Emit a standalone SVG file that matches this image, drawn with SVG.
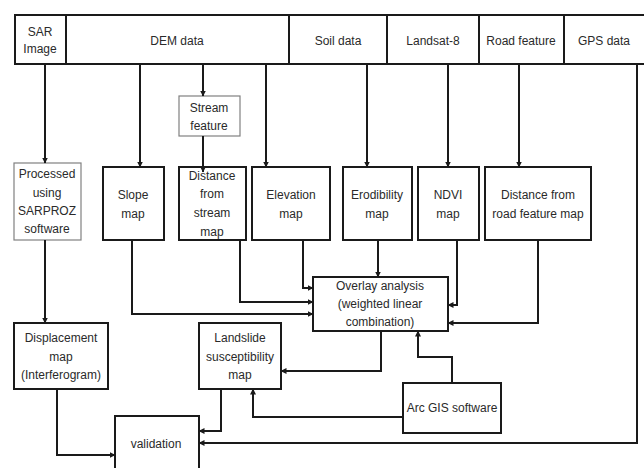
<svg xmlns="http://www.w3.org/2000/svg" width="644" height="468" viewBox="0 0 644 468">
<style>
.b{fill:#fff;stroke:#1a1a1a;stroke-width:2}
.t{fill:#fff;stroke:#808080;stroke-width:1.2}
text{font-family:"Liberation Sans",Arial,sans-serif;font-size:12px;fill:#2a2a2a;text-anchor:middle}
.c path{fill:none;stroke:#1a1a1a;stroke-width:2;marker-end:url(#a)}
</style>
<defs>
<marker id="a" markerUnits="userSpaceOnUse" markerWidth="6" markerHeight="6" refX="5.5" refY="3" orient="auto">
<path d="M0,0 L6,3 L0,6 z" fill="#1a1a1a"/>
</marker>
</defs>
<rect width="644" height="468" fill="#fff"/>
<g id="sar"><rect class="b" x="15" y="15" width="51" height="49"/><text x="40" y="36">SAR</text><text x="40" y="53">Image</text></g>
<g id="dem"><rect class="b" x="66" y="15" width="223" height="49"/><text x="177" y="45">DEM data</text></g>
<g id="soil"><rect class="b" x="289" y="15" width="98" height="49"/><text x="338" y="45">Soil data</text></g>
<g id="landsat"><rect class="b" x="387" y="15" width="92" height="49"/><text x="433" y="45">Landsat-8</text></g>
<g id="road"><rect class="b" x="479" y="15" width="85" height="49"/><text x="521" y="45">Road feature</text></g>
<g id="gps"><rect class="b" x="564" y="15" width="90" height="49"/><text x="604" y="45">GPS data</text></g>
<g id="stream"><rect class="t" x="179" y="96" width="61" height="40"/><text x="209" y="112">Stream</text><text x="209" y="130">feature</text></g>
<g id="processed"><rect class="t" x="14" y="163" width="67" height="77"/><text x="47" y="178">Processed</text><text x="47" y="197">using</text><text x="47" y="215">SARPROZ</text><text x="47" y="233">software</text></g>
<g id="slope"><rect class="b" x="103" y="167" width="61" height="73"/><text x="133" y="199">Slope</text><text x="133" y="218">map</text></g>
<g id="diststream"><rect class="b" x="179" y="167" width="67" height="73"/><text x="212" y="180">Distance</text><text x="212" y="198">from</text><text x="212" y="217">stream</text><text x="212" y="236">map</text></g>
<g id="elevation"><rect class="b" x="252" y="167" width="78" height="73"/><text x="291" y="199">Elevation</text><text x="291" y="218">map</text></g>
<g id="erodibility"><rect class="b" x="343" y="167" width="69" height="73"/><text x="377" y="199">Erodibility</text><text x="377" y="218">map</text></g>
<g id="ndvi"><rect class="b" x="418" y="167" width="61" height="73"/><text x="448" y="199">NDVI</text><text x="448" y="218">map</text></g>
<g id="distroad"><rect class="b" x="485" y="167" width="106" height="73"/><text x="538" y="199">Distance from</text><text x="538" y="218">road feature map</text></g>
<g id="overlay"><rect class="b" x="313" y="277" width="135" height="54"/><text x="380" y="290">Overlay analysis</text><text x="380" y="308">(weighted linear</text><text x="380" y="326">combination)</text></g>
<g id="displacement"><rect class="b" x="14" y="323" width="94" height="66"/><text x="61" y="342">Displacement</text><text x="61" y="361">map</text><text x="61" y="379">(Interferogram)</text></g>
<g id="landslide"><rect class="b" x="199" y="323" width="82" height="66"/><text x="240" y="342">Landslide</text><text x="240" y="361">susceptibility</text><text x="240" y="379">map</text></g>
<g id="arcgis"><rect class="b" x="403" y="383" width="98" height="50"/><text x="452" y="412">Arc GIS software</text></g>
<g id="validation"><rect class="b" x="115" y="416" width="84" height="62"/><text x="156" y="448">validation</text></g>
<g id="connectors" class="c">
<path d="M45,64 V163"/>
<path d="M140,64 V167"/>
<path d="M203,64 V96"/>
<path d="M203,136 V172"/>
<path d="M266,64 V167"/>
<path d="M367,64 V167"/>
<path d="M448,64 V167"/>
<path d="M519,64 V167"/>
<path d="M637,64 V443 H199"/>
<path d="M45,240 V323"/>
<path d="M132,240 V314 H313"/>
<path d="M240,240 V302 H313"/>
<path d="M303,240 V288 H313"/>
<path d="M378,240 V277"/>
<path d="M457,240 V305 H448"/>
<path d="M538,240 V323 H448"/>
<path d="M381,331 V371 H281"/>
<path d="M452,383 V357 H418 V331"/>
<path d="M403,417 H253 V389"/>
<path d="M57,389 V455 H115"/>
<path d="M221,389 V431 H199"/>
</g>
</svg>
